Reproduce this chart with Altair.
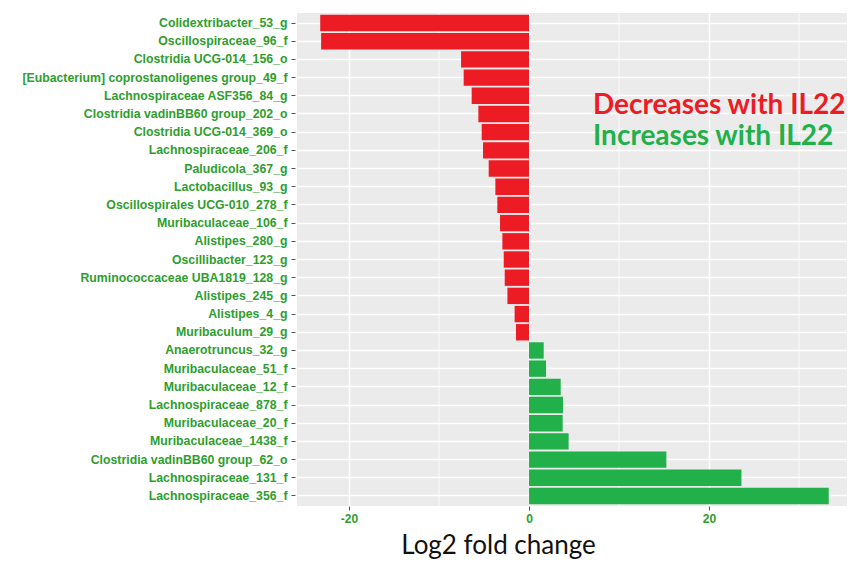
import altair as alt
import pandas as pd

taxa = [
    "Colidextribacter_53_g",
    "Oscillospiraceae_96_f",
    "Clostridia UCG-014_156_o",
    "[Eubacterium] coprostanoligenes group_49_f",
    "Lachnospiraceae ASF356_84_g",
    "Clostridia vadinBB60 group_202_o",
    "Clostridia UCG-014_369_o",
    "Lachnospiraceae_206_f",
    "Paludicola_367_g",
    "Lactobacillus_93_g",
    "Oscillospirales UCG-010_278_f",
    "Muribaculaceae_106_f",
    "Alistipes_280_g",
    "Oscillibacter_123_g",
    "Ruminococcaceae UBA1819_128_g",
    "Alistipes_245_g",
    "Alistipes_4_g",
    "Muribaculum_29_g",
    "Anaerotruncus_32_g",
    "Muribaculaceae_51_f",
    "Muribaculaceae_12_f",
    "Lachnospiraceae_878_f",
    "Muribaculaceae_20_f",
    "Muribaculaceae_1438_f",
    "Clostridia vadinBB60 group_62_o",
    "Lachnospiraceae_131_f",
    "Lachnospiraceae_356_f",
]
log2fc = [
    -23.2, -23.1, -7.55, -7.26, -6.37, -5.63, -5.26, -5.11, -4.48, -3.74,
    -3.52, -3.22, -2.96, -2.81, -2.7, -2.4, -1.6, -1.45,
    1.63, 1.89, 3.52, 3.78, 3.74, 4.4, 15.26, 23.6, 33.3,
]
groups = ["Decreases with IL22", "Increases with IL22"]
group_colors = ["#ED1C24", "#22B04B"]
major_ticks = [-20, 0, 20]
minor_ticks = [-10, 10, 30]
x_domain = [-25.78, 35.33]

df = pd.DataFrame({
    "taxon": taxa,
    "lfc": log2fc,
    "group": [groups[0] if v < 0 else groups[1] for v in log2fc],
})
minor_df = pd.DataFrame({"x": minor_ticks})

LABEL_GREEN = "#2E9E2E"
LABEL_FONT = "Liberation Sans"
xscale = alt.Scale(domain=x_domain, nice=False, zero=False)

minor = alt.Chart(minor_df).mark_rule(color="white", strokeWidth=0.8).encode(
    x=alt.X("x:Q", scale=xscale)
)

bars = alt.Chart(df).mark_bar().encode(
    x=alt.X(
        "lfc:Q",
        scale=xscale,
        axis=alt.Axis(
            values=major_ticks,
            labelExpr="'' + datum.value",
            grid=True,
            gridColor="white",
            gridWidth=1.5,
            domain=False,
            tickColor="#555555",
            tickSize=4,
            labelColor=LABEL_GREEN,
            labelFont=LABEL_FONT,
            labelFontWeight="bold",
            labelFontSize=12,
            labelPadding=3,
            title="Log2 fold change",
            titleFont="Lato",
            titleFontSize=26,
            titleFontWeight="normal",
            titleColor="#111111",
            titleX=201,
            titleAnchor="start",
            titleAlign="center",
            titlePadding=8,
        ),
    ),
    y=alt.Y(
        "taxon:N",
        sort=taxa,
        scale=alt.Scale(paddingInner=0.1, paddingOuter=0.1),
        axis=alt.Axis(
            title=None,
            grid=True,
            gridColor="white",
            gridWidth=1.3,
            domain=False,
            offset=2,
            tickColor="#555555",
            tickSize=4,
            labelColor=LABEL_GREEN,
            labelFont=LABEL_FONT,
            labelFontWeight="bold",
            labelFontSize=12.3,
            labelPadding=4,
            labelLimit=400,
        ),
    ),
    color=alt.Color("group:N", scale=alt.Scale(domain=groups, range=group_colors), legend=None),
)

ann_layers = []
for txt, col, ypx in zip(groups, group_colors, [93, 124]):
    ann_layers.append(
        alt.Chart(pd.DataFrame({"text": [txt]})).mark_text(
            align="left", baseline="middle", font="Lato", fontWeight="bold",
            fontSize=28, color=col,
        ).encode(x=alt.value(296), y=alt.value(ypx), text="text:N")
    )

chart = alt.layer(minor, bars, *ann_layers).properties(
    width=550,
    height=493,
    autosize=alt.AutoSizeParams(type="none"),
    padding={"left": 289, "top": 5, "right": 0, "bottom": 54},
).configure(background="white").configure_view(fill="#EBEBEB", stroke=None)

chart.save("out.html", embed_options={"renderer": "svg", "actions": False})
